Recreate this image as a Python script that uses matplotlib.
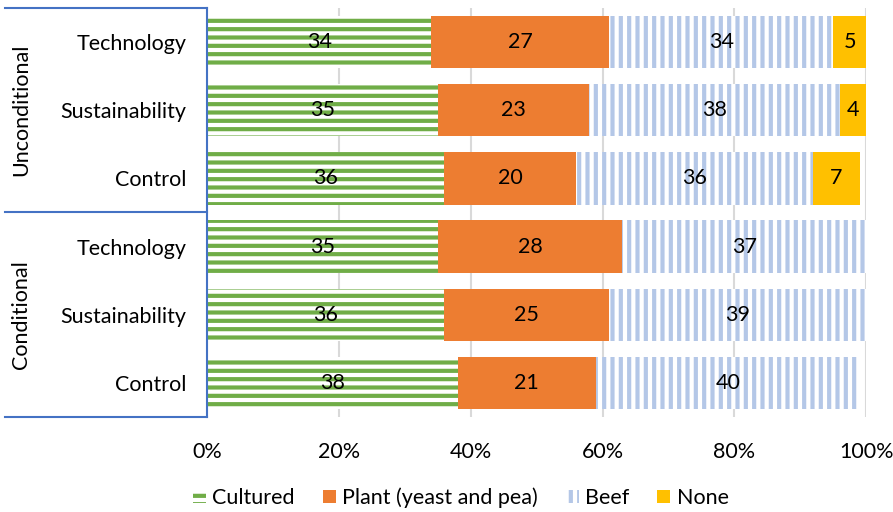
import numpy as np
import matplotlib.pyplot as plt
from matplotlib.patches import Patch

plt.rcParams['font.family'] = ['Lato', 'DejaVu Sans']
plt.rcParams['hatch.linewidth'] = 3.0

# rows drawn bottom to top
categories = ['Control', 'Sustainability', 'Technology',
              'Control', 'Sustainability', 'Technology']
groups = ['Conditional', 'Unconditional']
cultured = [38, 36, 35, 36, 35, 34]
plant = [21, 25, 28, 20, 23, 27]
beef = [40, 39, 37, 36, 38, 34]
none = [0, 0, 0, 7, 4, 5]
xticks = [0, 20, 40, 60, 80, 100]

green = '#70ad47'
orange = '#ed7d31'
blue = '#b4c7e7'
gold = '#ffc000'
line_blue = '#4472c4'
fs = 15.5

fig = plt.figure(figsize=(8.93, 5.12), dpi=100)
ax = fig.add_axes([0.232, 0.1855, 0.738, 0.799])

y = np.arange(len(categories))
h = 0.77
series = [
    ('Cultured', cultured, dict(facecolor='white', edgecolor=green, hatch='--', linewidth=0)),
    ('Plant (yeast and pea)', plant, dict(color=orange, linewidth=0)),
    ('Beef', beef, dict(facecolor='white', edgecolor=blue, hatch='||', linewidth=0)),
    ('None', none, dict(color=gold, linewidth=0)),
]
left = np.zeros(len(categories))
for name, vals, style in series:
    vals = np.array(vals, dtype=float)
    ax.barh(y, vals, h, left=left, zorder=2, **style)
    for yi, l, v in zip(y, left, vals):
        if v > 0:
            ax.text(l + v / 2, yi, f'{v:.0f}', ha='center', va='center',
                    fontsize=fs, color='black', zorder=3)
    left += vals

ax.set_xlim(0, 100)
ax.set_ylim(-0.5, 5.5)
ax.set_xticks(xticks)
ax.set_xticklabels([f'{t}%' for t in xticks], fontsize=fs)
ax.set_yticks(y)
ax.set_yticklabels(categories, fontsize=fs)
ax.tick_params(axis='both', length=0)
ax.tick_params(axis='y', pad=15)
ax.tick_params(axis='x', pad=18)
for s in ['top', 'right', 'bottom']:
    ax.spines[s].set_visible(False)
ax.spines['left'].set_color(line_blue)
ax.spines['left'].set_linewidth(1.5)
ax.spines['left'].set_zorder(4)
ax.xaxis.grid(True, color='#d9d9d9', linewidth=1.5, zorder=0)
ax.set_axisbelow(True)

# group separators and group names on the left
trans = ax.get_yaxis_transform()
for yl in [-0.5, 2.5, 5.5]:
    ax.plot([-0.307, 0], [yl, yl], color=line_blue, linewidth=1.5,
            transform=trans, clip_on=False)
for gi, g in enumerate(groups):
    ax.text(-0.282, 1 + 3 * gi, g, rotation=90, ha='center', va='center',
            fontsize=fs, transform=trans)

handles = [Patch(**style, label=name) for name, vals, style in series]
fig.legend(handles=handles, loc='lower center', bbox_to_anchor=(0.516, -0.03),
           ncol=4, frameon=False, fontsize=fs, handlelength=0.6,
           handleheight=0.6, columnspacing=1.3, handletextpad=0.3)

fig.savefig('out.png', dpi=100)
